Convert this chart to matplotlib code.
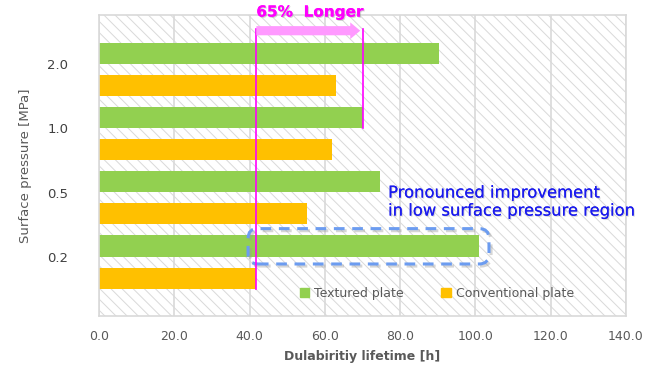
import matplotlib
matplotlib.use("Agg")
import matplotlib.pyplot as plt
import matplotlib.patheffects as pe
from matplotlib.patches import Rectangle, FancyBboxPatch, Patch

# lifetime data [h] per surface pressure level
pressures = ["0.2", "0.5", "1.0", "2.0"]
textured = [101.0, 74.7, 70.0, 90.4]
conventional = [41.8, 55.2, 61.8, 63.0]
xticks = [0, 20, 40, 60, 80, 100, 120, 140]

green = "#92d050"
orange = "#ffc000"
grid_c = "#d9d9d9"
txt_c = "#595959"

plt.rcParams["hatch.color"] = grid_c
plt.rcParams["hatch.linewidth"] = 0.7

fig = plt.figure(figsize=(6.6, 3.74), dpi=100)
ax = fig.add_axes([0.15, 0.155, 0.7985, 0.805])

# hatched background
ax.add_patch(Rectangle((0, 0), 1, 1, transform=ax.transAxes, facecolor="white",
                       edgecolor=grid_c, hatch="\\\\\\", linewidth=0, zorder=0))

ypos = list(range(len(pressures)))
off = 0.25
h = 0.33
ax.barh([y + off for y in ypos], textured, height=h, color=green, zorder=2)
ax.barh([y - off for y in ypos], conventional, height=h, color=orange, zorder=2)

ax.set_xlim(0, 140)
ax.set_ylim(-0.84, 3.845)
ax.set_xticks(xticks)
ax.set_xticklabels(["%.1f" % v for v in xticks], color=txt_c, fontsize=9)
ax.set_yticks([y + 0.08 for y in ypos])
ax.set_yticklabels(pressures, color="#404040", fontsize=9.5)
ax.tick_params(axis="x", length=0, pad=10)
ax.tick_params(axis="y", length=0, pad=22)
ax.xaxis.grid(True, color=grid_c, linewidth=1.2, zorder=1)
ax.set_axisbelow(True)
for s in ax.spines.values():
    s.set_color(grid_c)
    s.set_linewidth(1.2)

ax.set_xlabel("Dulabiritiy lifetime [h]", color=txt_c, fontsize=9, fontweight="bold", labelpad=5)
ax.set_ylabel("Surface pressure [MPa]", color=txt_c, fontsize=9.5, labelpad=11)

# 65% longer annotation
x0 = conventional[0]
x1 = textured[2]
ytop = 3.62
ax.plot([x0, x0], [ytop, -off - h / 2], color="#ff00ff", lw=1.2, zorder=4)
ax.plot([x1, x1], [ytop, 2 + off - h / 2], color="#ff00ff", lw=1.2, zorder=4)
ax.annotate("", xy=(x1 - 0.6, 3.6), xytext=(x0, 3.6),
            arrowprops=dict(arrowstyle="simple,head_length=0.6,head_width=1.0,tail_width=0.55",
                            mutation_scale=12, color="#ff99ff", lw=0, shrinkA=0, shrinkB=0),
            zorder=4)
ax.text(x0, 3.89, "65%  Longer", color="#ff00ff", fontsize=11, fontweight="bold",
        ha="left", va="center", zorder=5, clip_on=False,
        path_effects=[pe.withSimplePatchShadow(offset=(0.8, -0.8), shadow_rgbFace="#808080", alpha=0.35), pe.Normal()])

# highlight box around the 0.2 MPa textured bar
box = FancyBboxPatch((39.6, -0.03), 64.0, 0.55,
                     boxstyle="round,pad=0,rounding_size=2.6", mutation_aspect=0.0585,
                     facecolor="none", edgecolor="#6c9cf0", lw=2.2, linestyle=(0, (3.5, 2.5)),
                     zorder=3,
                     path_effects=[pe.SimpleLineShadow(offset=(1.5, -1.5), shadow_color="#999999", alpha=0.4), pe.Normal()])
ax.add_patch(box)

ax.text(76.8, 1.19, "Pronounced improvement\nin low surface pressure region",
        color="#1a1aee", fontsize=11.8, ha="left", va="top", linespacing=1.25, zorder=5,
        path_effects=[pe.withSimplePatchShadow(offset=(0.8, -0.8), shadow_rgbFace="#888888", alpha=0.3), pe.Normal()])

handles = [Patch(color=green, label="Textured plate"), Patch(color=orange, label="Conventional plate")]
leg = ax.legend(handles=handles, loc="center", bbox_to_anchor=(0.641, 0.076), ncol=2,
                frameon=False, fontsize=9, handlelength=0.75, handleheight=0.75,
                handletextpad=0.4, columnspacing=3.0)
for t in leg.get_texts():
    t.set_color(txt_c)

fig.savefig("out.png", dpi=100)
